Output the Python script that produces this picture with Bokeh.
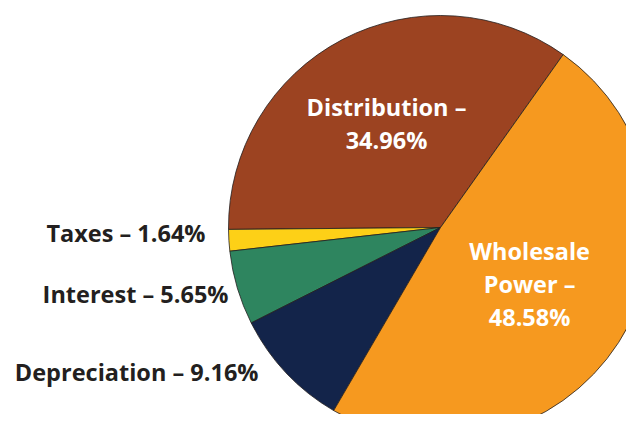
import math
from bokeh.plotting import figure
from bokeh.models import Range1d, ColumnDataSource
from bokeh.core.properties import value
from bokeh.embed import file_html
from bokeh.resources import INLINE

# ---- data ----
categories = ["Distribution", "Taxes", "Interest", "Depreciation", "Wholesale Power"]
shares = [34.96, 1.64, 5.65, 9.16, 48.58]
colors = ["#9c4321", "#fdd017", "#2e855f", "#13244a", "#f6991f"]
labels = ["Distribution –\n34.96%", "Taxes – 1.64%", "Interest – 5.65%",
          "Depreciation – 9.16%", "Wholesale\nPower –\n48.58%"]

# ---- layout (pixel-like coords; y measured upward from window bottom) ----
W, H = 626, 414
cx, cy, R = 440, 430 - 227, 212
start_deg = 54.65

p = figure(width=W, height=H, output_backend="svg", toolbar_location=None,
           x_range=Range1d(0, W), y_range=Range1d(430 - H, 430),
           min_border=0, outline_line_color=None)
p.axis.visible = False
p.grid.visible = False
p.background_fill_color = "white"

total = sum(shares)
starts, ends, mids = [], [], []
a = math.radians(start_deg)
for s in shares:
    da = 2 * math.pi * s / total
    starts.append(a)
    ends.append(a + da)
    mids.append(a + da / 2)
    a += da

src = ColumnDataSource(dict(x=[cx] * len(shares), y=[cy] * len(shares),
                            start=starts, end=ends, color=colors))
p.wedge(x="x", y="y", radius=R, start_angle="start", end_angle="end",
        fill_color="color", line_color="#231f20", line_width=0.8, source=src)

FS = "23.5px"
# inside labels (white)
inside = [0, 4]
ix, iy, it = [], [], []
for i, rr, dy in zip(inside, [0.55, 0.50], [1, 1]):
    ix.append(cx + rr * R * math.cos(mids[i]))
    iy.append(cy + rr * R * math.sin(mids[i]) + dy)
    it.append(labels[i])
p.text(x=ix, y=iy, text=it, text_color="white", text_font=value("Open Sans"),
       text_font_style="bold", text_font_size=FS, text_align="center",
       text_baseline="middle", text_line_height=1.03)

# outside labels (dark), right-aligned left of the pie
outside = [1, 2, 3]
ox = [205, 228, 258]
oy = [430 - 232, 430 - 293, 430 - 371]
p.text(x=ox, y=oy, text=[labels[i] for i in outside], text_color="#231f20",
       text_font=value("Open Sans"), text_font_style="bold", text_font_size=FS,
       text_align="right", text_baseline="middle")

open("out.html", "w").write(file_html(p, INLINE))
